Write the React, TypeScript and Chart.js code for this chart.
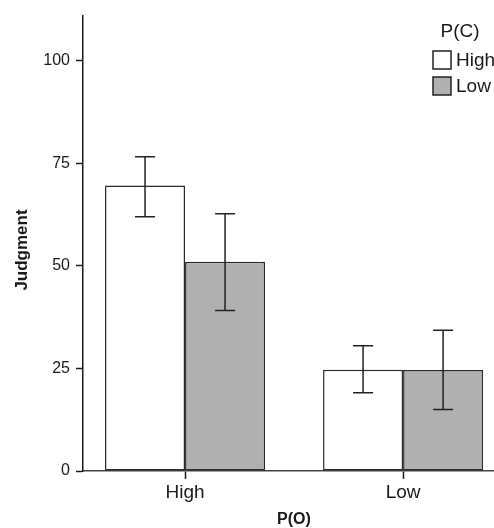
import React, { useEffect, useRef } from 'react';
import { Chart, registerables } from 'chart.js';

Chart.register(...registerables);

const categories = ['High', 'Low'];
const categoryPositions = [1, 2];
const seriesNames = ['High', 'Low'];
const highPCValues = [69.6, 24.7];
const lowPCValues = [51.0, 24.6];
const highPCErrLower = [62.0, 19.1];
const highPCErrUpper = [76.6, 30.5];
const lowPCErrLower = [39.1, 15.0];
const lowPCErrUpper = [62.7, 34.3];
const yTickValues = [0, 25, 50, 75, 100];
const xAxisTitle = 'P(O)';
const yAxisTitle = 'Judgment';
const legendTitle = 'P(C)';

const FONT = '"Liberation Sans", Arial, Helvetica, sans-serif';
const INK = '#1a1a1a';
const BAR_FILLS = ['#ffffff', '#b0b0b0'];

const errorBarPlugin = {
  id: 'errorBars',
  afterDatasetsDraw(chart: any) {
    const ctx = chart.ctx;
    const yScale = chart.scales.y;
    chart.data.datasets.forEach((ds: any, di: number) => {
      const meta = chart.getDatasetMeta(di);
      meta.data.forEach((bar: any, i: number) => {
        const lo = yScale.getPixelForValue(ds.errLower[i]);
        const hi = yScale.getPixelForValue(ds.errUpper[i]);
        const x = bar.x;
        ctx.save();
        ctx.strokeStyle = '#222';
        ctx.lineWidth = 1.5;
        ctx.beginPath();
        ctx.moveTo(x, lo);
        ctx.lineTo(x, hi);
        ctx.moveTo(x - 10, lo);
        ctx.lineTo(x + 10, lo);
        ctx.moveTo(x - 10, hi);
        ctx.lineTo(x + 10, hi);
        ctx.stroke();
        ctx.restore();
      });
    });
  },
};

const annotationPlugin = {
  id: 'annotations',
  afterDraw(chart: any) {
    const ctx = chart.ctx;
    ctx.save();
    ctx.fillStyle = INK;
    // y-axis title
    ctx.save();
    ctx.translate(22, 250);
    ctx.rotate(-Math.PI / 2);
    ctx.font = `bold 17px ${FONT}`;
    ctx.textAlign = 'center';
    ctx.textBaseline = 'middle';
    ctx.fillText(yAxisTitle, 0, 0);
    ctx.restore();
    // x-axis title
    ctx.font = `bold 16px ${FONT}`;
    ctx.textAlign = 'center';
    ctx.textBaseline = 'middle';
    ctx.fillText(xAxisTitle, 294, 520);
    // legend
    ctx.font = `19px ${FONT}`;
    ctx.textAlign = 'center';
    ctx.fillText(legendTitle, 460, 32);
    chart.data.datasets.forEach((ds: any, i: number) => {
      const by = 51 + i * 26;
      ctx.fillStyle = ds.backgroundColor;
      ctx.fillRect(433, by, 18, 18);
      ctx.strokeStyle = '#222';
      ctx.lineWidth = 1.5;
      ctx.strokeRect(433, by, 18, 18);
      ctx.fillStyle = INK;
      ctx.textAlign = 'left';
      ctx.fillText(ds.label, 456, by + 10);
    });
    ctx.restore();
  },
};

export default function App() {
  const canvasRef = useRef<HTMLCanvasElement>(null);

  useEffect(() => {
    const canvas = canvasRef.current;
    if (!canvas) return;
    const chart = new Chart(canvas, {
      type: 'bar',
      data: {
        datasets: [
          {
            label: seriesNames[0],
            data: categoryPositions.map((x, i) => ({ x, y: highPCValues[i] })),
            backgroundColor: BAR_FILLS[0],
            borderColor: '#2b2b2b',
            borderWidth: 1.5,
            borderSkipped: false,
            errLower: highPCErrLower,
            errUpper: highPCErrUpper,
          } as any,
          {
            label: seriesNames[1],
            data: categoryPositions.map((x, i) => ({ x, y: lowPCValues[i] })),
            backgroundColor: BAR_FILLS[1],
            borderColor: '#2b2b2b',
            borderWidth: 1.5,
            borderSkipped: false,
            errLower: lowPCErrLower,
            errUpper: lowPCErrUpper,
          } as any,
        ],
      },
      options: {
        responsive: false,
        animation: false,
        devicePixelRatio: 1,
        layout: { padding: { top: 12, left: 0, right: 0, bottom: 0 } },
        datasets: { bar: { categoryPercentage: 0.734, barPercentage: 1 } },
        plugins: {
          legend: { display: false },
          tooltip: { enabled: false },
        },
        scales: {
          x: {
            type: 'linear',
            min: 0.532,
            max: 2.417,
            offset: false,
            afterBuildTicks: (scale: any) => {
              scale.ticks = categoryPositions.map((v) => ({ value: v }));
            },
            afterFit: (scale: any) => {
              scale.height = 57;
            },
            grid: {
              offset: false,
              drawOnChartArea: false,
              tickLength: 8,
              tickWidth: 1.5,
              tickColor: INK,
            },
            border: { display: true, color: '#444', width: 1.5 },
            ticks: {
              autoSkip: false,
              maxRotation: 0,
              padding: 2,
              color: INK,
              font: { family: FONT, size: 19 },
              callback: (v: any) => {
                const idx = categoryPositions.indexOf(Number(v));
                return idx >= 0 ? categories[idx] : '';
              },
            },
          },
          y: {
            min: 0,
            max: 111,
            afterBuildTicks: (scale: any) => {
              scale.ticks = yTickValues.map((v) => ({ value: v }));
            },
            afterFit: (scale: any) => {
              scale.width = 83;
            },
            grid: {
              drawOnChartArea: false,
              tickLength: 7,
              tickWidth: 1.5,
              tickColor: INK,
            },
            border: { display: true, color: INK, width: 1.5 },
            ticks: {
              padding: 6,
              color: INK,
              font: { family: FONT, size: 16 },
            },
          },
        },
      } as any,
      plugins: [errorBarPlugin, annotationPlugin],
    });
    return () => chart.destroy();
  }, []);

  return (
    <div style={{ position: 'absolute', left: 0, top: 0, width: 494, height: 528, background: '#fff' }}>
      <canvas ref={canvasRef} width={494} height={528} style={{ display: 'block' }} />
    </div>
  );
}
